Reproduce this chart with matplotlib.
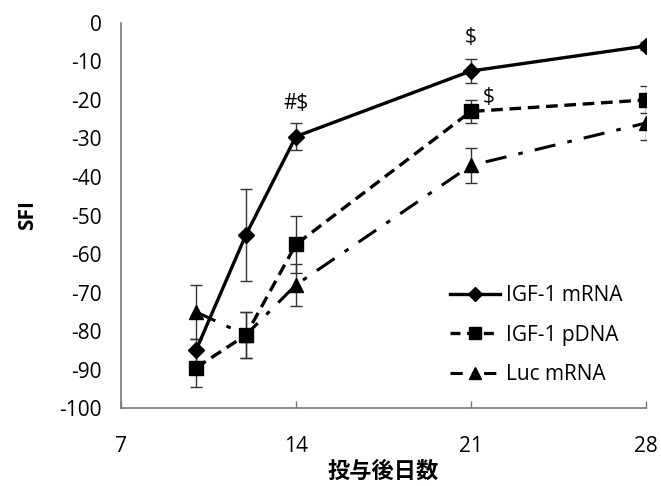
import matplotlib.pyplot as plt
from matplotlib.lines import Line2D

days = [10, 12, 14, 21, 28]

igf_mrna = [-85, -55, -29.5, -12.5, -6]
igf_mrna_err = [3, 12, 3.5, 3, 1]

igf_pdna = [-89.5, -81, -57.5, -23, -20]
igf_pdna_err = [5, 6, 7.5, 3, 3.5]

luc_mrna = [-75, -81, -68, -37, -26]
luc_mrna_err = [7, 6, 5.5, 4.5, 4.5]

labels = ['IGF-1 mRNA', 'IGF-1 pDNA', 'Luc mRNA']

plt.rcParams['font.family'] = ['Open Sans', 'Noto Sans CJK JP', 'DejaVu Sans']
plt.rcParams['axes.unicode_minus'] = False

fig = plt.figure(figsize=(6.61, 4.86), dpi=100)
ax = fig.add_axes([0.183, 0.160, 0.794, 0.793])

ax.errorbar(days, luc_mrna, yerr=luc_mrna_err, color='black', lw=2.2,
            dashes=(7, 4, 1.5, 4), marker='^', ms=10, ecolor='#333333',
            elinewidth=1, capsize=4, capthick=1)
ax.errorbar(days, igf_pdna, yerr=igf_pdna_err, color='black', lw=2.4,
            dashes=(3.5, 2), marker='s', ms=10, ecolor='#333333',
            elinewidth=1, capsize=4, capthick=1)
ax.errorbar(days, igf_mrna, yerr=igf_mrna_err, color='black', lw=2.4,
            marker='D', ms=8, ecolor='#333333',
            elinewidth=1, capsize=4, capthick=1)

# significance marks
ax.text(14, -20.8, '#$', ha='center', va='center', fontsize=15)
ax.text(21, -3.9, '$', ha='center', va='center', fontsize=15)
ax.text(21.7, -19.5, '$', ha='center', va='center', fontsize=15)

ax.set_xlim(7, 28)
ax.set_ylim(-100, 0)
ax.set_xticks([7, 14, 21, 28])
ax.set_yticks(range(-100, 1, 10))
ax.tick_params(axis='x', direction='in', length=5, width=1, color='#777777',
               labelsize=15, pad=20)
ax.tick_params(axis='y', length=0, labelsize=15, pad=14)

for side in ['top', 'right']:
    ax.spines[side].set_visible(False)
for side in ['left', 'bottom']:
    ax.spines[side].set_color('#777777')
    ax.spines[side].set_linewidth(1.2)

ax.set_ylabel('SFI', fontsize=15, fontweight='bold', labelpad=15)
ax.set_xlabel('投与後日数', fontsize=16, fontweight='bold',
              family=['Noto Sans CJK JP'], labelpad=2)

handles = [
    Line2D([], [], color='black', lw=2.4, marker='D', ms=7),
    Line2D([], [], color='black', lw=2.4, dashes=(3, 2), marker='s', ms=9),
    Line2D([], [], color='black', lw=2.2, dashes=(4, 3, 1, 3), marker='^', ms=9),
]
ax.legend(handles, labels, loc='lower right', bbox_to_anchor=(1.0, 0.0),
          frameon=False, fontsize=15, handlelength=2.4, handletextpad=0.3,
          labelspacing=0.9, borderaxespad=0.7)

fig.savefig('out.png', dpi=100)
